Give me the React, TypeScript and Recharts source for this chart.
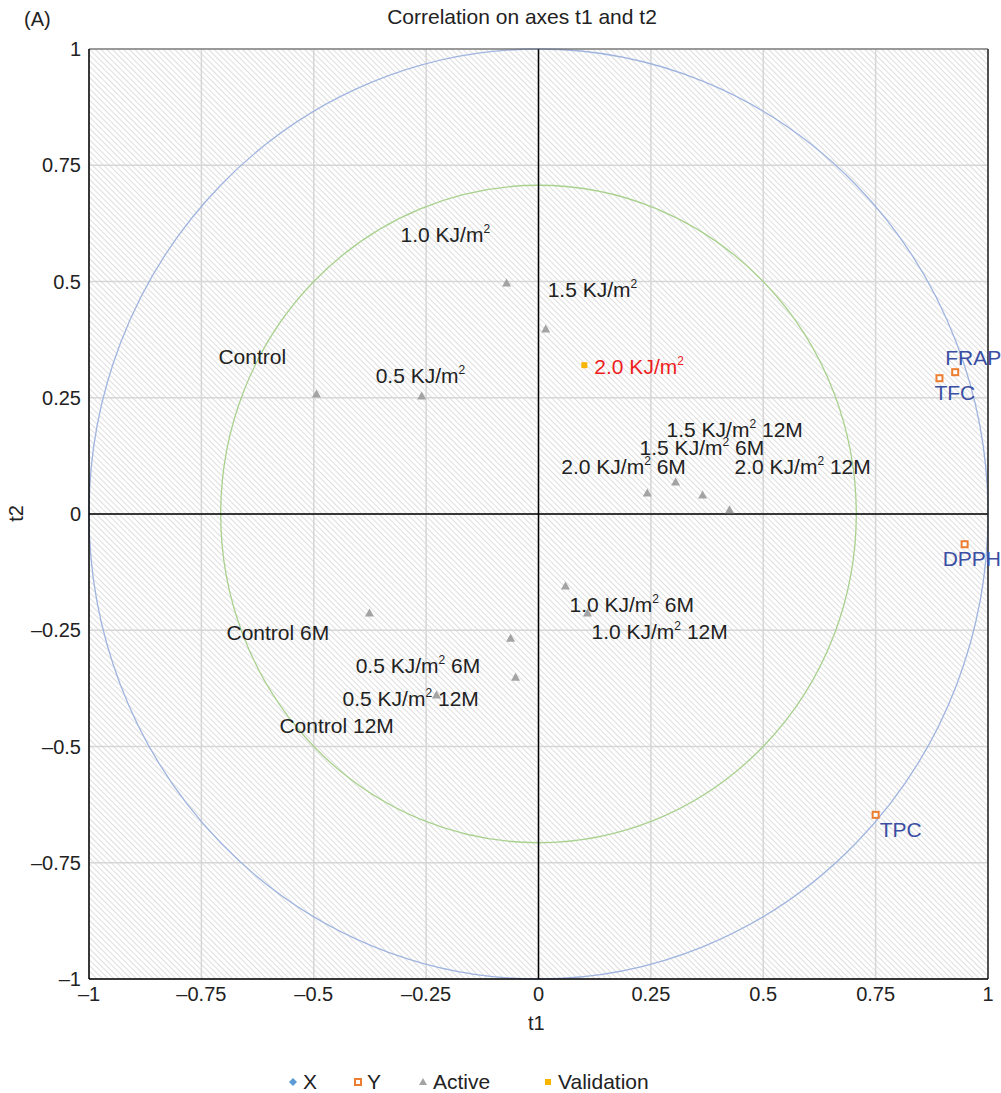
import React from "react";
import {
  ScatterChart,
  Scatter,
  XAxis,
  YAxis,
  CartesianGrid,
  ReferenceLine,
  ReferenceArea,
} from "recharts";

// Observations (Active)
const activeNames = [
  "Control",
  "0.5 KJ/m²",
  "1.0 KJ/m²",
  "1.5 KJ/m²",
  "2.0 KJ/m² 6M",
  "1.5 KJ/m² 6M",
  "1.5 KJ/m² 12M",
  "2.0 KJ/m² 12M",
  "1.0 KJ/m² 6M",
  "1.0 KJ/m² 12M",
  "Control 6M",
  "0.5 KJ/m² 6M",
  "0.5 KJ/m² 12M",
  "Control 12M",
];
const activeT1 = [-0.494, -0.26, -0.071, 0.016, 0.242, 0.305, 0.365, 0.425, 0.06, 0.109, -0.376, -0.062, -0.051, -0.227];
const activeT2 = [0.258, 0.254, 0.497, 0.398, 0.045, 0.069, 0.041, 0.009, -0.155, -0.213, -0.213, -0.267, -0.351, -0.389];

// Variables (Y)
const yNames = ["FRAP", "TFC", "DPPH", "TPC"];
const yT1 = [0.927, 0.892, 0.948, 0.75];
const yT2 = [0.305, 0.292, -0.065, -0.647];

// Validation
const validNames = ["2.0 KJ/m²"];
const validT1 = [0.102];
const validT2 = [0.32];

const ticks = [-1, -0.75, -0.5, -0.25, 0, 0.25, 0.5, 0.75, 1];
const innerRadius = 0.707;

// label placement (pixels from the point to the text start / middle)
const labelOffset: Record<string, [number, number]> = {
  "Control": [-98, -37],
  "0.5 KJ/m²": [-46, -20],
  "1.0 KJ/m²": [-106, -48],
  "1.5 KJ/m²": [2, -39],
  "2.0 KJ/m² 6M": [-86, -26],
  "1.5 KJ/m² 6M": [-36, -34],
  "1.5 KJ/m² 12M": [-36, -65],
  "2.0 KJ/m² 12M": [5, -43],
  "1.0 KJ/m² 6M": [4, 19],
  "1.0 KJ/m² 12M": [4, 19],
  "Control 6M": [-143, 20],
  "0.5 KJ/m² 6M": [-155, 28],
  "0.5 KJ/m² 12M": [-173, 22],
  "Control 12M": [-157, 31],
  "FRAP": [-10, -14],
  "TFC": [-5, 15],
  "DPPH": [-22, 15],
  "TPC": [4, 15],
  "valid:2.0 KJ/m²": [10, 2],
};

const activeData = activeNames.map((name, i) => ({ name, x: activeT1[i], y: activeT2[i] }));
const yData = yNames.map((name, i) => ({ name, x: yT1[i], y: yT2[i] }));
const validData = validNames.map((name, i) => ({ name, x: validT1[i], y: validT2[i], key: "valid:" + name }));

const FONT = "'Liberation Sans', Arial, sans-serif";
const fmt = (v: number) => String(v).replace("-", "\u2013");

function Label({ x, y, text, color }: { x: number; y: number; text: string; color: string }) {
  const parts = text.split("²");
  return (
    <text x={x} y={y + 7} fontSize={21} fontFamily={FONT} fill={color}>
      {parts[0]}
      {parts.length > 1 && (
        <>
          <tspan fontSize={12} dy={-9}>2</tspan>
          <tspan dy={9}>{parts[1]}</tspan>
        </>
      )}
    </text>
  );
}

const triangleShape = (p: any) => {
  const { cx, cy, payload } = p;
  const [dx, dy] = labelOffset[payload.name] || [5, 0];
  return (
    <g>
      <path d={`M${cx},${cy - 4.5}L${cx + 4.5},${cy + 3.5}L${cx - 4.5},${cy + 3.5}Z`} fill="#a3a3a3" />
      <Label x={cx + dx} y={cy + dy} text={payload.name} color="#222" />
    </g>
  );
};

const squareShape = (p: any) => {
  const { cx, cy, payload } = p;
  const [dx, dy] = labelOffset[payload.name] || [5, 0];
  return (
    <g>
      <rect x={cx - 3} y={cy - 3} width={6} height={6} fill="#fff" stroke="#ed7d31" strokeWidth={2} />
      <Label x={cx + dx} y={cy + dy} text={payload.name} color="#3a4ea3" />
    </g>
  );
};

const validShape = (p: any) => {
  const { cx, cy, payload } = p;
  const [dx, dy] = labelOffset[payload.key] || [5, 0];
  return (
    <g>
      <rect x={cx - 3} y={cy - 3} width={6} height={6} fill="#f7b500" />
      <Label x={cx + dx} y={cy + dy} text={payload.name} color="#ee1c1c" />
    </g>
  );
};

const ellipse = (stroke: string) => (p: any) => (
  <ellipse
    cx={p.x + p.width / 2}
    cy={p.y + p.height / 2}
    rx={Math.abs(p.width) / 2}
    ry={Math.abs(p.height) / 2}
    fill="none"
    stroke={stroke}
    strokeWidth={1.3}
  />
);

export default function App() {
  return (
    <div style={{ position: "absolute", left: 0, top: 0, width: 1001, height: 1093, background: "#fff", fontFamily: FONT }}>
      <div style={{ position: "absolute", left: 24, top: 8, fontSize: 20, color: "#222" }}>(A)</div>
      <div style={{ position: "absolute", left: 0, width: 1044, top: 5, textAlign: "center", fontSize: 21, color: "#222" }}>
        Correlation on axes t1 and t2
      </div>
      <ScatterChart width={1001} height={1093} margin={{ top: 49, right: 13, bottom: 84, left: 0 }}>
        <defs>
          <pattern id="hatch" width="4" height="4" patternUnits="userSpaceOnUse" patternTransform="rotate(-45)">
            <rect width="4" height="4" fill="#ffffff" />
            <line x1="0" y1="0" x2="0" y2="4" stroke="#cdcdcd" strokeWidth="1.3" />
          </pattern>
        </defs>
        <CartesianGrid fill="url(#hatch)" stroke="#d6d6d6" strokeWidth={1.5} horizontalValues={ticks} verticalValues={ticks} />
        <XAxis
          type="number"
          dataKey="x"
          domain={[-1, 1]}
          ticks={ticks}
          tickFormatter={fmt}
          tickLine={false}
          axisLine={{ stroke: "#000", strokeWidth: 1.5 }}
          tick={{ fontSize: 20, fill: "#222", fontFamily: FONT }}
          height={30}
        />
        <YAxis
          type="number"
          dataKey="y"
          domain={[-1, 1]}
          ticks={ticks}
          tickFormatter={fmt}
          tickLine={false}
          axisLine={{ stroke: "#000", strokeWidth: 1.5 }}
          tick={{ fontSize: 20, fill: "#222", fontFamily: FONT }}
          width={89}
        />
        <ReferenceArea x1={-1} x2={1} y1={-1} y2={1} shape={ellipse("#9fb4df")} />
        <ReferenceArea x1={-innerRadius} x2={innerRadius} y1={-innerRadius} y2={innerRadius} shape={ellipse("#a9d18e")} />
        <ReferenceLine x={0} stroke="#000" strokeWidth={1.5} />
        <ReferenceLine y={0} stroke="#000" strokeWidth={1.5} />
        <ReferenceLine x={1} stroke="#222" strokeWidth={1.5} />
        <ReferenceLine y={1} stroke="#555" strokeWidth={1} />
        <Scatter name="Active" data={activeData} shape={triangleShape} isAnimationActive={false} />
        <Scatter name="Y" data={yData} shape={squareShape} isAnimationActive={false} />
        <Scatter name="Validation" data={validData} shape={validShape} isAnimationActive={false} />
      </ScatterChart>
      <div style={{ position: "absolute", left: 528, top: 1012, fontSize: 20, color: "#222" }}>t1</div>
      <div
        style={{
          position: "absolute",
          left: 8,
          top: 502,
          fontSize: 20,
          color: "#222",
          transform: "rotate(-90deg)",
        }}
      >
        t2
      </div>
      <div style={{ position: "absolute", top: 1070, left: 287, height: 24, fontSize: 21, color: "#222" }}>
        <svg width={420} height={24} style={{ position: "absolute", left: 0, top: 0 }}>
          <path d="M6,8 L10,12 L6,16 L2,12 Z" fill="#5b9bd5" />
          <rect x={68} y={9} width={6} height={6} fill="#fff" stroke="#ed7d31" strokeWidth={2} />
          <path d="M136,8 L140,15 L132,15 Z" fill="#a3a3a3" />
          <rect x={258} y={9} width={6} height={6} fill="#f7b500" />
        </svg>
        <span style={{ position: "absolute", left: 16, top: 0 }}>X</span>
        <span style={{ position: "absolute", left: 80, top: 0 }}>Y</span>
        <span style={{ position: "absolute", left: 146, top: 0 }}>Active</span>
        <span style={{ position: "absolute", left: 271, top: 0 }}>Validation</span>
      </div>
    </div>
  );
}
